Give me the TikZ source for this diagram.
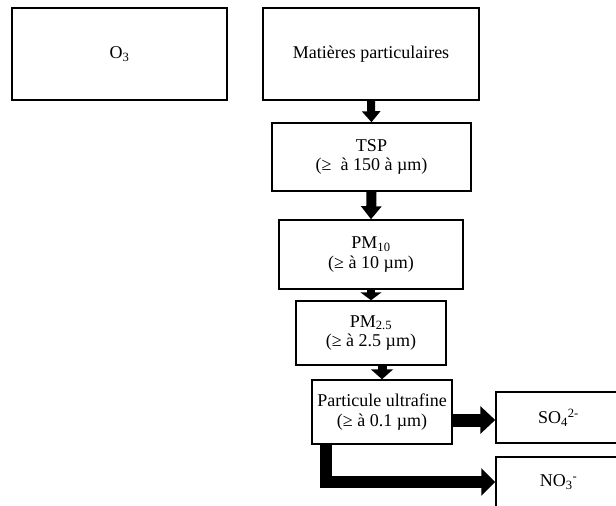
\documentclass[tikz,border=0pt]{standalone}
\usepackage{fontspec}
\setmainfont{Liberation Serif}
\usetikzlibrary{arrows.meta}
\newcommand{\boxfont}{\fontsize{18}{19.5}\selectfont}
\tikzset{
  box/.style={draw, line width=1.5pt, align=center, inner sep=0pt, font=\boxfont},
  barrow/.style n args={3}{draw, line width=#1, -{Triangle[length=#2, width=#3]}}
}
\begin{document}
\begin{tikzpicture}[x=1pt, y=-1pt]
\useasboundingbox (0,0) rectangle (616,506);
\node[box, minimum width=215pt, minimum height=92pt] (o3) at (119.5,54) {O\textsubscript{3}};
\node[box, minimum width=216pt, minimum height=92pt] (mat) at (371,54) {Matières particulaires};
\node[box, minimum width=199pt, minimum height=68pt] (tsp) at (371.5,157) {TSP\\(≥\ \ à 150 à µm)};
\node[box, minimum width=184pt, minimum height=69pt] (pm10) at (371,254.5) {PM\textsubscript{10}\\(≥ à 10 µm)};
\node[box, minimum width=150pt, minimum height=64pt] (pm25) at (371,333) {PM\textsubscript{2.5}\\(≥ à 2.5 µm)};
\node[box, minimum width=140pt, minimum height=64pt] (pu) at (382,412) {Particule ultrafine\\(≥ à 0.1 µm)};
\node[box, minimum width=125pt, minimum height=51pt] (so4) at (558.5,417.5) {SO\textsubscript{4}\textsuperscript{2-}};
\node[box, minimum width=125pt, minimum height=50pt] (no3) at (558.5,482) {NO\textsubscript{3}\textsuperscript{-}};
\draw[barrow={8pt}{11pt}{18pt}] (mat.south) -- (tsp.north);
\draw[barrow={10pt}{13pt}{20pt}] (tsp.south) -- (pm10.north);
\draw[barrow={8pt}{8pt}{21pt}] (pm10.south) -- (pm10.south |- pm25.north);
\draw[barrow={9pt}{10pt}{22pt}] (pu.north |- pm25.south) -- (pu.north);
\coordinate (sy) at (0,420);
\draw[barrow={13pt}{15pt}{27pt}] (pu.east |- sy) -- (so4.west |- sy);
\draw[barrow={12pt}{14pt}{27pt}] ([xshift=-56pt]pu.south) |- (no3.west);
\end{tikzpicture}
\end{document}
